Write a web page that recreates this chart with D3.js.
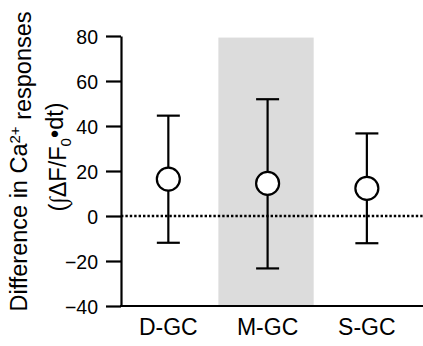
<!DOCTYPE html>
<html>
<head>
<meta charset="utf-8">
<script src="https://cdn.jsdelivr.net/npm/d3@7/dist/d3.min.js"></script>
<style>
  body { margin: 0; background: #fff; }
  text { font-family: "Liberation Sans", Arial, sans-serif; fill: #000; }
</style>
</head>
<body>
<div id="chart"></div>
<script>
// data
const groups = ['D-GC', 'M-GC', 'S-GC'];
const means = [16.4, 14.5, 12.3];
const upper = [44.6, 51.9, 36.7];
const lower = [-11.9, -23.3, -12.1];
const yTicks = [-40, -20, 0, 20, 40, 60, 80];
const shaded = 'M-GC';

const width = 423, height = 346;
const margin = {top: 36, right: 1, bottom: 40, left: 121};

const svg = d3.select('#chart').append('svg')
    .attr('width', width)
    .attr('height', height);

const x = d3.scaleBand()
    .domain(groups)
    .range([118.7, 416.5])
    .padding(0);

const y = d3.scaleLinear()
    .domain([-40, 80])
    .range([height - margin.bottom, margin.top]);

// shaded band behind the middle group
svg.append('rect')
    .attr('x', x(shaded) + 0.4)
    .attr('y', y(79.3))
    .attr('width', x.bandwidth() * 0.96)
    .attr('height', y(-40) - y(79.3))
    .attr('fill', '#dcdcdc');

// zero line, dotted
svg.append('line')
    .attr('x1', margin.left)
    .attr('x2', width)
    .attr('y1', y(0))
    .attr('y2', y(0))
    .attr('stroke', '#000')
    .attr('stroke-width', 2.5)
    .attr('stroke-dasharray', '2.4,2');

// y axis
const yAxis = svg.append('g')
    .attr('transform', 'translate(' + margin.left + ',0)')
    .call(d3.axisLeft(y).tickValues(yTicks).tickSize(15).tickPadding(8).tickSizeOuter(0));
yAxis.select('.domain').attr('stroke-width', 2.2);
yAxis.selectAll('.tick line').attr('stroke-width', 2.2);
yAxis.selectAll('.tick text')
    .style('font-size', '19.5px')
    .attr('dy', '0.36em');

// x axis
const xAxis = svg.append('g')
    .attr('transform', 'translate(0,' + y(-40) + ')')
    .call(d3.axisBottom(x).tickSize(0).tickPadding(13));
xAxis.select('.domain')
    .attr('d', 'M' + (margin.left - 1) + ',0H' + width)
    .attr('stroke-width', 2.2);
xAxis.selectAll('.tick text')
    .style('font-size', '23px')
    .attr('dy', '0.71em');

// error bars
const cx = d => x(d) + x.bandwidth() / 2;
const capW = 11.5;
const bars = svg.append('g')
    .selectAll('g')
    .data(groups)
    .join('g')
    .attr('stroke', '#000')
    .attr('stroke-width', 2.2);
bars.append('line')
    .attr('x1', cx).attr('x2', cx)
    .attr('y1', (d, i) => y(upper[i]))
    .attr('y2', (d, i) => y(lower[i]));
bars.append('line')
    .attr('x1', d => cx(d) - capW).attr('x2', d => cx(d) + capW)
    .attr('y1', (d, i) => y(upper[i])).attr('y2', (d, i) => y(upper[i]));
bars.append('line')
    .attr('x1', d => cx(d) - capW).attr('x2', d => cx(d) + capW)
    .attr('y1', (d, i) => y(lower[i])).attr('y2', (d, i) => y(lower[i]));
bars.append('circle')
    .attr('cx', cx)
    .attr('cy', (d, i) => y(means[i]))
    .attr('r', 11.5)
    .attr('fill', '#fff');

// y title, two lines
const t1 = svg.append('text')
    .attr('transform', 'translate(27,161.5) rotate(-90)')
    .attr('text-anchor', 'middle')
    .style('font-size', '23.5px');
t1.append('tspan').text('Difference in Ca');
t1.append('tspan').text('2+').attr('dy', '-0.45em').style('font-size', '15px');
t1.append('tspan').text(' responses').attr('dy', '0.45em');

const t2 = svg.append('text')
    .attr('transform', 'translate(66,157) rotate(-90)')
    .attr('text-anchor', 'middle')
    .style('font-size', '23.5px');
t2.append('tspan').text('(');
t2.append('tspan').text('∫').style('font-family', '"DejaVu Sans"').style('font-weight', '200');
t2.append('tspan').text('ΔF/F');
t2.append('tspan').text('0').attr('dy', '0.3em').style('font-size', '15px');
t2.append('tspan').text('•dt)').attr('dy', '-0.3em');
</script>
</body>
</html>
